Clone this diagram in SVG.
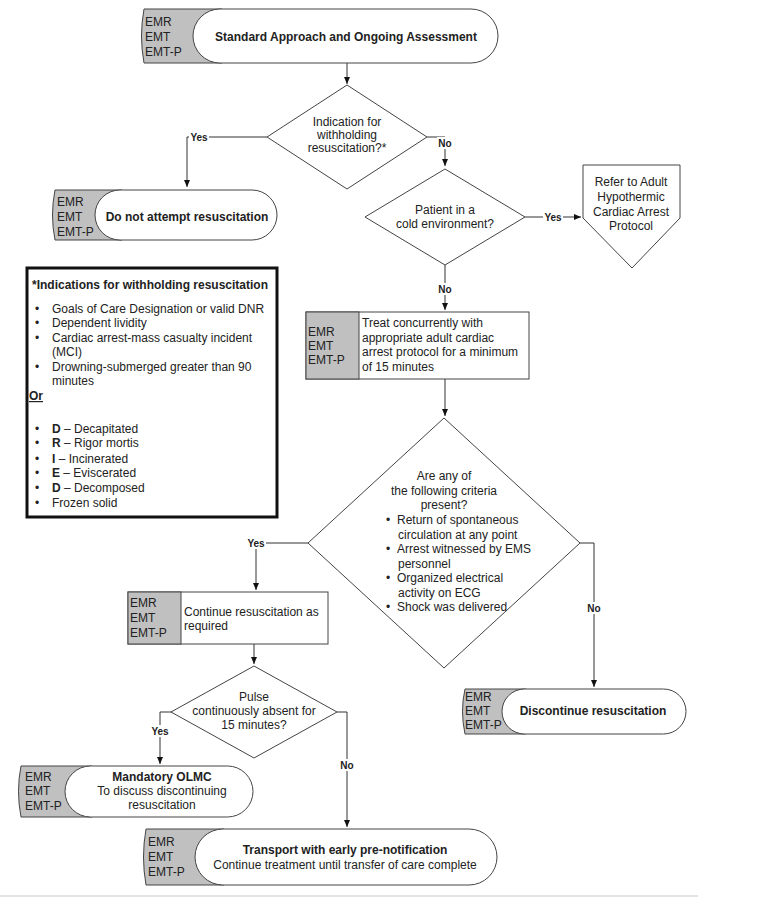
<svg xmlns="http://www.w3.org/2000/svg" width="765" height="910" viewBox="0 0 765 910">
<style>
text{font-family:"Liberation Sans",Arial,sans-serif;font-size:12px;fill:#222}
.b{font-weight:bold}
.c{text-anchor:middle}
.lbl{font-weight:bold;font-size:10px;text-anchor:middle;fill:#222}
.tab{fill:#c0c0c0;stroke:#444;stroke-width:1}
.pill{fill:#fff;stroke:#444;stroke-width:1}
.shape{fill:#fff;stroke:#444;stroke-width:1}
.ln{fill:none;stroke:#333;stroke-width:1}
.bg{fill:#fff}
</style>
<defs>
<marker id="ah" markerWidth="8" markerHeight="8" refX="7" refY="4" orient="auto" markerUnits="userSpaceOnUse">
<path d="M0,1 L7,4 L0,7 Z" fill="#111"/>
</marker>
</defs>
<rect width="765" height="910" fill="#fff"/>
<g id="frame">
<line x1="0" y1="896" x2="698" y2="896" stroke="#e4e4e4" stroke-width="2"/>
</g>
<g id="connectors">
<path class="ln" d="M347,63 V84" marker-end="url(#ah)"/>
<path class="ln" d="M267,137 H187 V187" marker-end="url(#ah)"/>
<path class="ln" d="M427,137 H445 V166" marker-end="url(#ah)"/>
<path class="ln" d="M525,217 H581" marker-end="url(#ah)"/>
<path class="ln" d="M445,265 V310" marker-end="url(#ah)"/>
<path class="ln" d="M445,379 V416" marker-end="url(#ah)"/>
<path class="ln" d="M308,543 H256 V590" marker-end="url(#ah)"/>
<path class="ln" d="M580,543 H594 V687" marker-end="url(#ah)"/>
<path class="ln" d="M254,644 V664" marker-end="url(#ah)"/>
<path class="ln" d="M172,712 H160 V764" marker-end="url(#ah)"/>
<path class="ln" d="M337,712 H347 V827" marker-end="url(#ah)"/>
<rect class="bg" x="189" y="131" width="20" height="12"/>
<text class="lbl" x="199" y="141">Yes</text>
<rect class="bg" x="437" y="137" width="16" height="12"/>
<text class="lbl" x="445" y="147">No</text>
<rect class="bg" x="543" y="211" width="20" height="12"/>
<text class="lbl" x="553" y="221">Yes</text>
<rect class="bg" x="437" y="283" width="16" height="12"/>
<text class="lbl" x="445" y="293">No</text>
<rect class="bg" x="246" y="537" width="20" height="12"/>
<text class="lbl" x="256" y="547">Yes</text>
<rect class="bg" x="586" y="602" width="16" height="12"/>
<text class="lbl" x="594" y="612">No</text>
<rect class="bg" x="150" y="725" width="20" height="12"/>
<text class="lbl" x="160" y="735">Yes</text>
<rect class="bg" x="339" y="759" width="16" height="12"/>
<text class="lbl" x="347" y="769">No</text>
</g>
<g id="n-start">
<path class="tab" d="M222,9 H144 Q139,36 144,63 H222 Z"/>
<rect class="pill" x="193" y="9" width="305" height="54" rx="27" ry="27"/>
<text x="145" y="26">EMR</text><text x="145" y="41">EMT</text><text x="145" y="56">EMT-P</text>
<text class="b c" x="346" y="41">Standard Approach and Ongoing Assessment</text>
</g>
<g id="n-withhold">
<polygon class="shape" points="347,85 427,137 347,189 267,137"/>
<text class="c" x="347" y="126">Indication for</text>
<text class="c" x="347" y="139">withholding</text>
<text class="c" x="347" y="152">resuscitation?*</text>
</g>
<g id="n-dnr">
<path class="tab" d="M122,190 H55 Q50,215 55,240 H122 Z"/>
<rect class="pill" x="95" y="190" width="182" height="50" rx="25" ry="25"/>
<text x="57" y="206">EMR</text><text x="57" y="221">EMT</text><text x="57" y="236">EMT-P</text>
<text class="b c" x="187" y="221">Do not attempt resuscitation</text>
</g>
<g id="n-cold">
<polygon class="shape" points="445,169 525,217 445,265 365,217"/>
<text class="c" x="445" y="214">Patient in a</text>
<text class="c" x="445" y="228">cold environment?</text>
</g>
<g id="n-hypo">
<polygon class="shape" points="583,165 680,165 680,218 632,268 583,218"/>
<text class="c" x="631" y="186">Refer to Adult</text>
<text class="c" x="631" y="201">Hypothermic</text>
<text class="c" x="631" y="216">Cardiac Arrest</text>
<text class="c" x="631" y="230">Protocol</text>
</g>
<g id="n-indications">
<rect x="27" y="268" width="250" height="249" fill="#fff" stroke="#111" stroke-width="3"/>
<text class="b" x="32" y="289">*Indications for withholding resuscitation</text>
<text x="35" y="313">•</text><text x="52" y="313">Goals of Care Designation or valid DNR</text>
<text x="35" y="327">•</text><text x="52" y="327">Dependent lividity</text>
<text x="35" y="342">•</text><text x="52" y="342">Cardiac arrest-mass casualty incident</text>
<text x="52" y="356">(MCI)</text>
<text x="35" y="371">•</text><text x="52" y="371">Drowning-submerged greater than 90</text>
<text x="52" y="385">minutes</text>
<text class="b" x="29" y="400" text-decoration="underline">Or</text>
<text x="35" y="433">•</text><text x="52" y="433"><tspan class="b">D</tspan> – Decapitated</text>
<text x="35" y="447">•</text><text x="52" y="447"><tspan class="b">R</tspan> – Rigor mortis</text>
<text x="35" y="463">•</text><text x="52" y="463"><tspan class="b">I</tspan>  – Incinerated</text>
<text x="35" y="477">•</text><text x="52" y="477"><tspan class="b">E</tspan> – Eviscerated</text>
<text x="35" y="492">•</text><text x="52" y="492"><tspan class="b">D</tspan> – Decomposed</text>
<text x="35" y="507">•</text><text x="52" y="507">Frozen solid</text>
</g>
<g id="n-treat">
<rect class="shape" x="306" y="312" width="223" height="67"/>
<rect class="tab" x="306" y="312" width="53" height="67"/>
<text x="308" y="336">EMR</text><text x="308" y="350">EMT</text><text x="308" y="364">EMT-P</text>
<text x="362" y="327">Treat concurrently with</text>
<text x="362" y="342">appropriate adult cardiac</text>
<text x="362" y="356">arrest protocol for a minimum</text>
<text x="362" y="371">of 15 minutes</text>
</g>
<g id="n-criteria">
<polygon class="shape" points="444,418 580,543 444,668 308,543"/>
<text class="c" x="444" y="480">Are any of</text>
<text class="c" x="444" y="495">the following criteria</text>
<text class="c" x="444" y="509">present?</text>
<text x="386" y="524">•</text><text x="397" y="524">Return of spontaneous</text>
<text x="398" y="539">circulation at any point</text>
<text x="386" y="553">•</text><text x="397" y="553">Arrest witnessed by EMS</text>
<text x="398" y="568">personnel</text>
<text x="386" y="582">•</text><text x="397" y="582">Organized electrical</text>
<text x="398" y="597">activity on ECG</text>
<text x="386" y="611">•</text><text x="397" y="611">Shock was delivered</text>
</g>
<g id="n-continue">
<rect class="shape" x="128" y="592" width="200" height="52"/>
<rect class="tab" x="128" y="592" width="53" height="52"/>
<text x="130" y="607">EMR</text><text x="130" y="622">EMT</text><text x="130" y="637">EMT-P</text>
<text x="184" y="616">Continue resuscitation as</text>
<text x="184" y="630">required</text>
</g>
<g id="n-discontinue">
<path class="tab" d="M526,689 H465 Q460,711 465,734 H526 Z"/>
<rect class="pill" x="502" y="689" width="184" height="45" rx="22.5" ry="22.5"/>
<text x="465" y="701">EMR</text><text x="465" y="715">EMT</text><text x="465" y="729">EMT-P</text>
<text class="b c" x="593" y="715">Discontinue resuscitation</text>
</g>
<g id="n-pulse">
<polygon class="shape" points="254,666 337,712 254,758 171,712"/>
<text class="c" x="254" y="701">Pulse</text>
<text class="c" x="254" y="715">continuously absent for</text>
<text class="c" x="254" y="729">15 minutes?</text>
</g>
<g id="n-olmc">
<path class="tab" d="M92,766 H21 Q16,791 21,817 H92 Z"/>
<rect class="pill" x="65" y="766" width="188" height="51" rx="25.5" ry="25.5"/>
<text x="25" y="781">EMR</text><text x="25" y="795">EMT</text><text x="25" y="810">EMT-P</text>
<text class="b c" x="162" y="781">Mandatory OLMC</text>
<text class="c" x="162" y="795">To discuss discontinuing</text>
<text class="c" x="162" y="809">resuscitation</text>
</g>
<g id="n-transport">
<path class="tab" d="M224,829 H146 Q141,857 146,885 H224 Z"/>
<rect class="pill" x="195" y="829" width="302" height="56" rx="28" ry="28"/>
<text x="148" y="846">EMR</text><text x="148" y="861">EMT</text><text x="148" y="876">EMT-P</text>
<text class="b c" x="345" y="854">Transport with early pre-notification</text>
<text class="c" x="345" y="869">Continue treatment until transfer of care complete</text>
</g>
</svg>
